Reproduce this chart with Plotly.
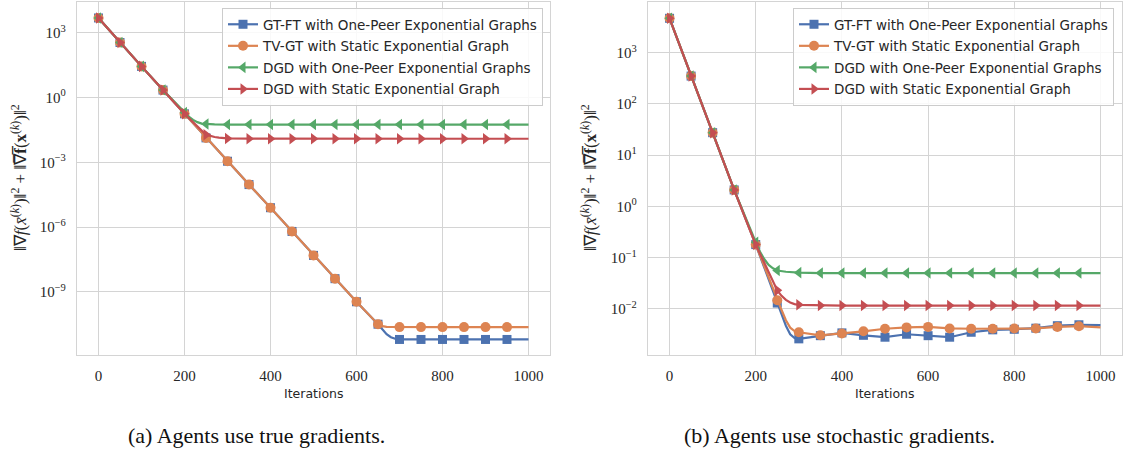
import plotly.graph_objects as go

# ---------------- data ----------------
MARKER_ITERS = [0, 50, 100, 150, 200, 250, 300, 350, 400, 450, 500,
                550, 600, 650, 700, 750, 800, 850, 900, 950]

SERIES_NAMES = ["GT-FT with One-Peer Exponential Graphs",
                "TV-GT with Static Exponential Graph",
                "DGD with One-Peer Exponential Graphs",
                "DGD with Static Exponential Graph"]

# (a) true gradients
a_gtft_iter = [0, 50, 100, 150, 200, 250, 300, 350, 400, 450, 500, 550, 600, 650,
               660, 670, 680, 690, 700, 750, 800, 850, 900, 950, 1000]
a_gtft_val = [4.8e3, 3.5e2, 2.75e1, 2.2, 1.75e-1, 1.35e-2, 1.12e-3, 9.3e-5, 7.9e-6,
              6.3e-7, 4.9e-8, 4.1e-9, 3.5e-10, 3.2e-11,
              1.8e-11, 1.1e-11, 8.0e-12, 6.8e-12, 6.3e-12, 6.3e-12, 6.3e-12, 6.3e-12,
              6.3e-12, 6.3e-12, 6.3e-12]

a_tvgt_iter = [0, 50, 100, 150, 200, 250, 300, 350, 400, 450, 500, 550, 600, 650,
               660, 670, 700, 750, 800, 850, 900, 950, 1000]
a_tvgt_val = [4.8e3, 3.5e2, 2.75e1, 2.2, 1.75e-1, 1.35e-2, 1.12e-3, 9.3e-5, 7.9e-6,
              6.3e-7, 4.9e-8, 4.1e-9, 3.5e-10, 3.2e-11,
              2.6e-11, 2.4e-11, 2.35e-11, 2.35e-11, 2.35e-11, 2.35e-11, 2.35e-11,
              2.35e-11, 2.35e-11]

a_dgd1_iter = [0, 50, 100, 150, 200, 210, 220, 230, 240, 250, 270, 300, 350, 400,
               450, 500, 550, 600, 650, 700, 750, 800, 850, 900, 950, 1000]
a_dgd1_val = [4.8e3, 3.5e2, 2.75e1, 2.2, 2.0e-1, 1.3e-1, 9.2e-2, 7.2e-2, 6.2e-2,
              5.9e-2, 5.7e-2, 5.6e-2, 5.6e-2, 5.6e-2, 5.6e-2, 5.6e-2, 5.6e-2,
              5.6e-2, 5.6e-2, 5.6e-2, 5.6e-2, 5.6e-2, 5.6e-2, 5.6e-2, 5.6e-2, 5.6e-2]

a_dgd2_iter = [0, 50, 100, 150, 200, 250, 260, 270, 280, 290, 300, 350, 400, 450,
               500, 550, 600, 650, 700, 750, 800, 850, 900, 950, 1000]
a_dgd2_val = [4.8e3, 3.5e2, 2.75e1, 2.2, 1.75e-1, 1.9e-2, 1.65e-2, 1.48e-2, 1.38e-2,
              1.3e-2, 1.27e-2, 1.24e-2, 1.23e-2, 1.23e-2, 1.23e-2, 1.23e-2, 1.23e-2,
              1.23e-2, 1.23e-2, 1.23e-2, 1.23e-2, 1.23e-2, 1.23e-2, 1.23e-2, 1.23e-2]

# (b) stochastic gradients
b_gtft_iter = [0, 50, 100, 150, 200, 250, 260, 270, 280, 290, 300, 350, 400, 450,
               500, 550, 600, 650, 700, 750, 800, 850, 900, 950, 1000]
b_gtft_val = [4.7e3, 3.5e2, 2.75e1, 2.1, 1.8e-1, 1.3e-2, 7.9e-3, 4.7e-3, 3.2e-3,
              2.7e-3, 2.6e-3, 3.0e-3, 3.4e-3, 3.05e-3, 2.8e-3, 3.2e-3, 3.0e-3,
              2.8e-3, 3.5e-3, 3.9e-3, 4.0e-3, 4.2e-3, 4.7e-3, 4.9e-3, 4.8e-3]

b_tvgt_iter = [0, 50, 100, 150, 200, 250, 260, 270, 280, 290, 300, 350, 400, 450,
               500, 550, 600, 650, 700, 750, 800, 850, 900, 950, 1000]
b_tvgt_val = [4.7e3, 3.5e2, 2.75e1, 2.1, 1.8e-1, 1.48e-2, 9.5e-3, 6.0e-3, 4.3e-3,
              3.7e-3, 3.5e-3, 3.05e-3, 3.3e-3, 3.65e-3, 4.1e-3, 4.35e-3, 4.45e-3,
              4.15e-3, 4.1e-3, 4.1e-3, 4.15e-3, 4.15e-3, 4.45e-3, 4.6e-3, 4.35e-3]

b_dgd1_iter = [0, 50, 100, 150, 200, 210, 220, 230, 240, 250, 270, 300, 350, 400,
               450, 500, 550, 600, 650, 700, 750, 800, 850, 900, 950, 1000]
b_dgd1_val = [4.7e3, 3.5e2, 2.75e1, 2.1, 2.0e-1, 1.3e-1, 9.3e-2, 7.2e-2, 6.2e-2,
              5.6e-2, 5.3e-2, 5.1e-2, 5.0e-2, 5.0e-2, 5.0e-2, 5.0e-2, 5.0e-2,
              5.0e-2, 5.0e-2, 5.0e-2, 5.0e-2, 5.0e-2, 5.0e-2, 5.0e-2, 5.0e-2, 5.0e-2]

b_dgd2_iter = [0, 50, 100, 150, 200, 250, 260, 270, 280, 290, 300, 350, 400, 450,
               500, 550, 600, 650, 700, 750, 800, 850, 900, 950, 1000]
b_dgd2_val = [4.7e3, 3.5e2, 2.75e1, 2.1, 1.8e-1, 2.3e-2, 1.8e-2, 1.5e-2, 1.33e-2,
              1.24e-2, 1.2e-2, 1.17e-2, 1.16e-2, 1.16e-2, 1.16e-2, 1.16e-2, 1.16e-2,
              1.16e-2, 1.16e-2, 1.16e-2, 1.16e-2, 1.16e-2, 1.16e-2, 1.16e-2, 1.16e-2]

X_TICKS = [0, 200, 400, 600, 800, 1000]
A_Y_TICKS = [1e3, 1e0, 1e-3, 1e-6, 1e-9]
A_Y_TEXT = ["10<sup>3</sup>", "10<sup>0</sup>", "10<sup>−3</sup>", "10<sup>−6</sup>", "10<sup>−9</sup>"]
B_Y_TICKS = [1e3, 1e2, 1e1, 1e0, 1e-1, 1e-2]
B_Y_TEXT = ["10<sup>3</sup>", "10<sup>2</sup>", "10<sup>1</sup>", "10<sup>0</sup>",
            "10<sup>−1</sup>", "10<sup>−2</sup>"]

CAPTION_A = "(a) Agents use true gradients."
CAPTION_B = "(b) Agents use stochastic gradients."
X_TITLE = "Iterations"
Y_TITLE = ("‖∇<i>f</i>(<i>x̄</i><sup>(<i>k</i>)</sup>)‖<sup>2</sup> + "
           "‖∇̅<b>f̅</b>(<b>x</b><sup>(<i>k</i>)</sup>)‖<sup>2</sup>")

# ---------------- style ----------------
COLORS = ["#4C72B0", "#DD8452", "#55A868", "#C44E52"]
SYMBOLS = ["square", "circle", "triangle-left", "triangle-right"]
MSIZES = [9, 10, 10, 10]
W, H = 1123, 455
SERIF = "Liberation Serif"
SANS = "DejaVu Sans"

fig = go.Figure()

panels = [
    ("x", "y", "legend", [(a_gtft_iter, a_gtft_val), (a_tvgt_iter, a_tvgt_val),
                          (a_dgd1_iter, a_dgd1_val), (a_dgd2_iter, a_dgd2_val)]),
    ("x2", "y2", "legend2", [(b_gtft_iter, b_gtft_val), (b_tvgt_iter, b_tvgt_val),
                             (b_dgd1_iter, b_dgd1_val), (b_dgd2_iter, b_dgd2_val)]),
]

for xa, ya, leg, series in panels:
    for i, (its, vals) in enumerate(series):
        fig.add_trace(go.Scatter(x=its, y=vals, mode="lines", xaxis=xa, yaxis=ya,
                                 line=dict(color=COLORS[i], width=2.2),
                                 showlegend=False, hoverinfo="skip"))
        mx = [it for it in its if it in MARKER_ITERS]
        my = [v for it, v in zip(its, vals) if it in MARKER_ITERS]
        fig.add_trace(go.Scatter(x=mx, y=my, mode="markers", xaxis=xa, yaxis=ya,
                                 marker=dict(color=COLORS[i], symbol=SYMBOLS[i],
                                             size=MSIZES[i], line=dict(width=0)),
                                 showlegend=False))
    for i in range(4):
        fig.add_trace(go.Scatter(x=[None], y=[None], mode="lines+markers",
                                 xaxis=xa, yaxis=ya, name=SERIES_NAMES[i], legend=leg,
                                 legendgroup=f"{leg}{i}",
                                 line=dict(color=COLORS[i], width=2.2),
                                 marker=dict(color=COLORS[i], symbol=SYMBOLS[i],
                                             size=MSIZES[i], line=dict(width=0))))

GRID = "#d4d4d4"
common_x = dict(range=[-50, 1050], tickvals=X_TICKS, showgrid=True, gridcolor=GRID,
                gridwidth=1, showline=True, linecolor=GRID, linewidth=1.3, mirror=True,
                zeroline=False, ticks="", ticklabelstandoff=7,
                tickfont=dict(family=SERIF, size=15, color="#262626"))
common_y = dict(type="log", showgrid=True, gridcolor=GRID, gridwidth=1, showline=True,
                linecolor=GRID, linewidth=1.3, mirror=True, zeroline=False, ticks="",
                ticklabelstandoff=7, tickfont=dict(family=SERIF, size=15, color="#262626"))

ax_l, ax_r = 77 / W, 550 / W
bx_l, bx_r = 648 / W, 1122 / W
y_b, y_t = 1 - 355 / H, 1 - 2 / H

legend_common = dict(yanchor="top", xanchor="right", y=1 - 8 / H,
                     bgcolor="rgba(255,255,255,0.85)", bordercolor="#cccccc",
                     borderwidth=1, font=dict(family=SANS, size=13.5, color="#262626"),
                     traceorder="grouped", tracegroupgap=1)

fig.update_layout(
    width=W, height=H, margin=dict(l=0, r=0, t=0, b=0),
    paper_bgcolor="white", plot_bgcolor="white",
    xaxis=dict(domain=[ax_l, ax_r], anchor="y", **common_x),
    yaxis=dict(domain=[y_b, y_t], anchor="x", range=[-11.92, 4.42],
               tickvals=A_Y_TICKS, ticktext=A_Y_TEXT, **common_y),
    xaxis2=dict(domain=[bx_l, bx_r], anchor="y2", **common_x),
    yaxis2=dict(domain=[y_b, y_t], anchor="x2", range=[-2.9, 3.99],
                tickvals=B_Y_TICKS, ticktext=B_Y_TEXT, **common_y),
    legend=dict(x=543 / W, **legend_common),
    legend2=dict(x=1114 / W, **legend_common),
)

annots = [
    dict(text=Y_TITLE, x=19 / W, y=1 - 178 / H, textangle=-90,
         font=dict(family=SERIF, size=17, color="#262626")),
    dict(text=Y_TITLE, x=589 / W, y=1 - 178 / H, textangle=-90,
         font=dict(family=SERIF, size=17, color="#262626")),
    dict(text=X_TITLE, x=313.5 / W, y=1 - 393 / H,
         font=dict(family=SANS, size=12.5, color="#262626")),
    dict(text=X_TITLE, x=885 / W, y=1 - 393 / H,
         font=dict(family=SANS, size=12.5, color="#262626")),
    dict(text=CAPTION_A, x=256.5 / W, y=1 - 435 / H,
         font=dict(family=SERIF, size=22, color="#111111")),
    dict(text=CAPTION_B, x=839.5 / W, y=1 - 435 / H,
         font=dict(family=SERIF, size=22, color="#111111")),
]
for a in annots:
    fig.add_annotation(xref="paper", yref="paper", showarrow=False,
                       xanchor="center", yanchor="middle", **a)

fig.write_html("out.html", config={"displayModeBar": False},
               post_script="document.body.style.margin='0';document.body.style.overflow='hidden';")
